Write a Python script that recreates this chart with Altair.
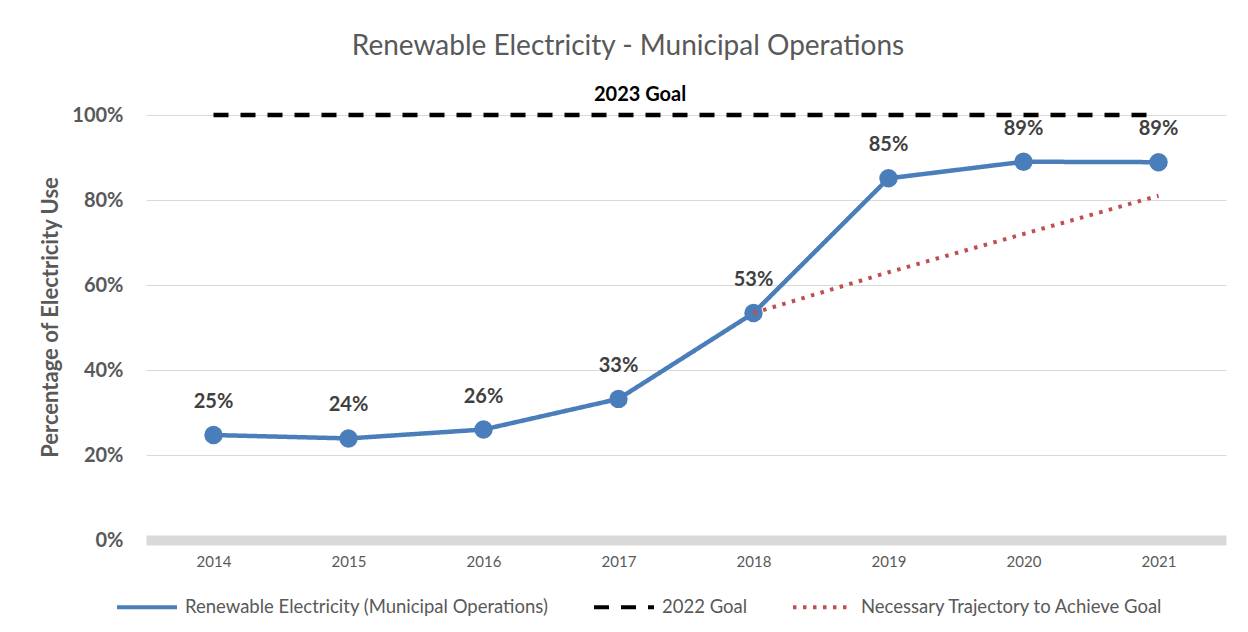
import altair as alt
import pandas as pd

FONT = "Lato"
GREY = "#595959"

years = [2014, 2015, 2016, 2017, 2018, 2019, 2020, 2021]
renewable = [0.247, 0.239, 0.260, 0.332, 0.534, 0.851, 0.890, 0.889]

traj_years = [2018, 2019, 2020, 2021]
trajectory = [0.534, 0.630, 0.720, 0.810]

goal_years = [2014, 2021]
goal_values = [1.0, 1.0]

goal_label_text = ["2023 Goal"]
goal_label_x = [2017.16]
goal_label_y = [1.047]

TITLE = "Renewable Electricity - Municipal Operations"

S_REN = "Renewable Electricity (Municipal Operations)"
S_GOAL = "2022 Goal"
S_TRAJ = "Necessary Trajectory to Achieve Goal"
series_names = [S_REN, S_GOAL, S_TRAJ]
series_colors = ["#4a7ebb", "#000000", "#c0504d"]
series_dashes = [[1, 0], [15, 12], [3.5, 6.5]]

ren_df = pd.DataFrame({"year": years, "value": renewable, "series": S_REN})
traj_df = pd.DataFrame({"year": traj_years, "value": trajectory, "series": S_TRAJ})
goal_df = pd.DataFrame({"year": goal_years, "value": goal_values, "series": S_GOAL})
label_df = pd.DataFrame({"year": goal_label_x, "value": goal_label_y, "text": goal_label_text})
title_df = pd.DataFrame({"text": [TITLE]})

x_enc = alt.X(
    "year:Q",
    scale=alt.Scale(domain=[2013.5, 2021.5], nice=False, zero=False),
    axis=alt.Axis(
        values=years, format="d", title=None, grid=False, ticks=False,
        domainColor="#d9d9d9", domainWidth=10, labelPadding=14,
        labelFont=FONT, labelFontSize=15, labelColor=GREY,
    ),
)
y_enc = alt.Y(
    "value:Q",
    scale=alt.Scale(domain=[0, 1], nice=False),
    axis=alt.Axis(
        values=[0, 0.2, 0.4, 0.6, 0.8, 1.0], format=".0%",
        title="Percentage of Electricity Use",
        titleFont=FONT, titleFontSize=22, titleFontWeight="bold", titleColor=GREY,
        titleX=-96, titleY=202, titleAngle=-90, titleAlign="center", titleBaseline="middle",
        labelFont=FONT, labelFontSize=20, labelFontWeight="bold", labelColor=GREY,
        labelPadding=23, domain=False, ticks=False,
        gridColor="#d9d9d9", gridWidth=1,
    ),
)

legend = alt.Legend(
    title=None, orient="none", direction="horizontal", columns=3,
    legendX=-31, legendY=460,
    symbolType="stroke", symbolSize=3600, symbolStrokeWidth=4,
    labelFont=FONT, labelFontSize=18.5, labelColor=GREY, labelLimit=500,
    labelOffset=6, columnPadding=37,
)
color_enc = alt.Color(
    "series:N", scale=alt.Scale(domain=series_names, range=series_colors), legend=legend
)
dash_enc = alt.StrokeDash(
    "series:N", scale=alt.Scale(domain=series_names, range=series_dashes), legend=legend
)

goal_line = alt.Chart(goal_df).mark_line(strokeWidth=4.5).encode(
    x=x_enc, y=y_enc, color=color_enc, strokeDash=dash_enc
)
ren_line = alt.Chart(ren_df).mark_line(strokeWidth=4.5).encode(
    x=x_enc, y=y_enc, color=color_enc, strokeDash=dash_enc
)
ren_points = alt.Chart(ren_df).mark_circle(size=340, opacity=1, color="#4a7ebb").encode(
    x=x_enc, y=y_enc
)
traj_line = alt.Chart(traj_df).mark_line(strokeWidth=4).encode(
    x=x_enc, y=y_enc, color=color_enc, strokeDash=dash_enc
)
ren_labels = alt.Chart(ren_df).mark_text(
    dy=-33, font=FONT, fontSize=20, fontWeight="bold", color="#404040"
).encode(x=x_enc, y=y_enc, text=alt.Text("value:Q", format=".0%"))
goal_text = alt.Chart(label_df).mark_text(
    font=FONT, fontSize=20, fontWeight="bold", color="#000000"
).encode(x=x_enc, y=y_enc, text="text:N")
title_text = alt.Chart(title_df).mark_text(
    font=FONT, fontSize=28, fontWeight="normal", color=GREY, align="center", baseline="middle"
).encode(x=alt.value(482), y=alt.value(-68), text="text:N")

chart = alt.layer(
    goal_line, ren_line, ren_points, traj_line, ren_labels, goal_text, title_text
).properties(
    width=1080, height=425,
    autosize=alt.AutoSizeParams(type="none"),
    padding={"left": 138, "top": 107, "right": 14, "bottom": 80},
).configure(background="white", view=alt.ViewConfig(stroke=None))

chart.save("out.html", embed_options={"renderer": "svg", "actions": False})
